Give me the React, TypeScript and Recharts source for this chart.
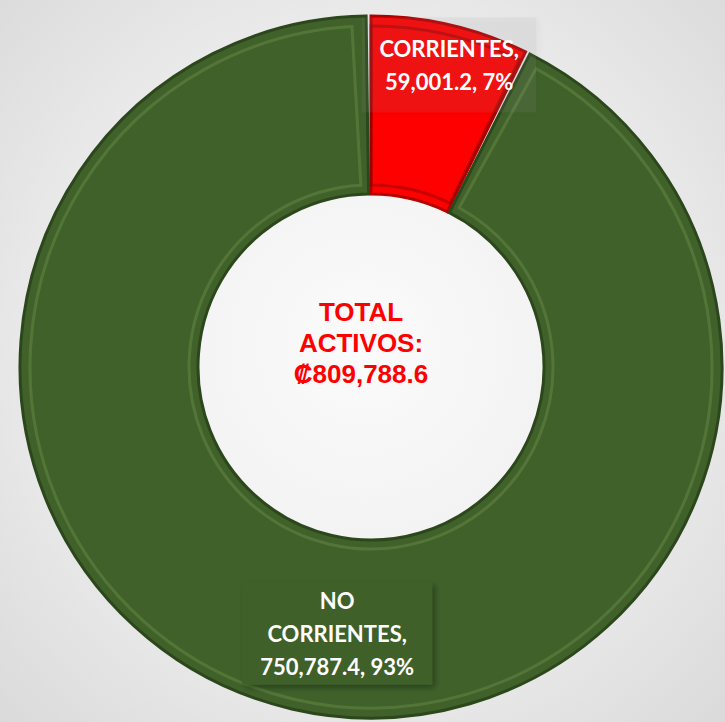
import React from 'react'
import { PieChart, Pie, Cell } from 'recharts'

const categories = ['CORRIENTES', 'NO CORRIENTES']
const values = [59001.2, 750787.4]
const percents = ['7%', '93%']
const centerLines = ['TOTAL', 'ACTIVOS:', '₡809,788.6']

const colors = ['#ff0000', '#40622a']
const edgeColors = ['#b30000', '#2b471b']
const bevelColors = ['rgba(130,0,0,0.45)', 'rgba(150,190,110,0.22)']

const data = categories.map((name, i) => ({ name, value: values[i] }))

const fmt = (v: number) =>
  v.toLocaleString('en-US', { minimumFractionDigits: 1, maximumFractionDigits: 1 })

const CX = 366
const CY = 362

// label box layout (radius along the slice middle, x shift, box size, fill)
const labelLayout = [
  { r: 310, dx: 9, w: 174, h: 95, fill: 'rgba(150,150,150,0.10)' },
  { r: 273, dx: 27, w: 190, h: 103, fill: '#40612a' },
]

const RAD = Math.PI / 180
const font = 'Lato, "Open Sans", sans-serif'

function SliceLabel(props: any) {
  const { cx, cy, midAngle, index } = props
  const lay = labelLayout[index]
  const x = cx + lay.r * Math.cos(-midAngle * RAD) + lay.dx
  const y = cy + lay.r * Math.sin(-midAngle * RAD)
  const lines =
    index === 0
      ? [categories[0] + ',', `${fmt(values[0])}, ${percents[0]}`]
      : ['NO', 'CORRIENTES,', `${fmt(values[1])}, ${percents[1]}`]
  const lh = 33
  const top = y - ((lines.length - 1) * lh) / 2
  return (
    <g>
      <rect
        x={x - lay.w / 2}
        y={y - lay.h / 2}
        width={lay.w}
        height={lay.h}
        fill={lay.fill}
        filter="url(#boxShadow)"
      />
      {lines.map((t, i) => (
        <text
          key={i}
          x={x}
          y={top + i * lh}
          textAnchor="middle"
          dominantBaseline="central"
          fill="#ffffff"
          fontFamily={font}
          fontWeight={700}
          fontSize={22}
        >
          {t}
        </text>
      ))}
    </g>
  )
}

export default function App() {
  return (
    <div
      style={{
        position: 'absolute',
        left: 0,
        top: 0,
        width: 725,
        height: 722,
        background:
          'radial-gradient(ellipse at 50% 48%, #fbfbfb 0%, #f1f1f1 45%, #dadada 100%)',
        overflow: 'hidden',
      }}
    >
      <svg width={0} height={0} style={{ position: 'absolute' }}>
        <defs>
          <filter id="boxShadow" x="-20%" y="-20%" width="140%" height="140%">
            <feDropShadow dx="3" dy="3" stdDeviation="3" floodColor="#000" floodOpacity="0.35" />
          </filter>
        </defs>
      </svg>
      <PieChart width={725} height={722}>
        <Pie
          data={data}
          dataKey="value"
          cx={CX}
          cy={CY}
          outerRadius={351}
          innerRadius={173}
          startAngle={90}
          endAngle={-270}
          paddingAngle={0.8}
          stroke="none"
          isAnimationActive={false}
          labelLine={false}
        >
          {data.map((d, i) => (
            <Cell key={d.name} fill={colors[i]} stroke={edgeColors[i]} strokeWidth={3} />
          ))}
        </Pie>
        <Pie
          data={data}
          dataKey="value"
          cx={CX}
          cy={CY}
          outerRadius={341}
          innerRadius={182}
          startAngle={90}
          endAngle={-270}
          paddingAngle={3.2}
          isAnimationActive={false}
          labelLine={false}
          label={SliceLabel}
        >
          {data.map((d, i) => (
            <Cell key={d.name} fill="none" stroke={bevelColors[i]} strokeWidth={3} />
          ))}
        </Pie>
      </PieChart>
      <svg width={725} height={722} style={{ position: 'absolute', left: 0, top: 0, pointerEvents: 'none' }}>
        {centerLines.map((t, i) => (
          <text
            key={i}
            x={CX - 5}
            y={CY - 19 + (i - 1) * 31}
            textAnchor="middle"
            dominantBaseline="central"
            fill="#ff0000"
            fontFamily='"Liberation Sans", Arial, sans-serif'
            fontWeight={700}
            fontSize={26}
          >
            {t}
          </text>
        ))}
      </svg>
    </div>
  )
}
